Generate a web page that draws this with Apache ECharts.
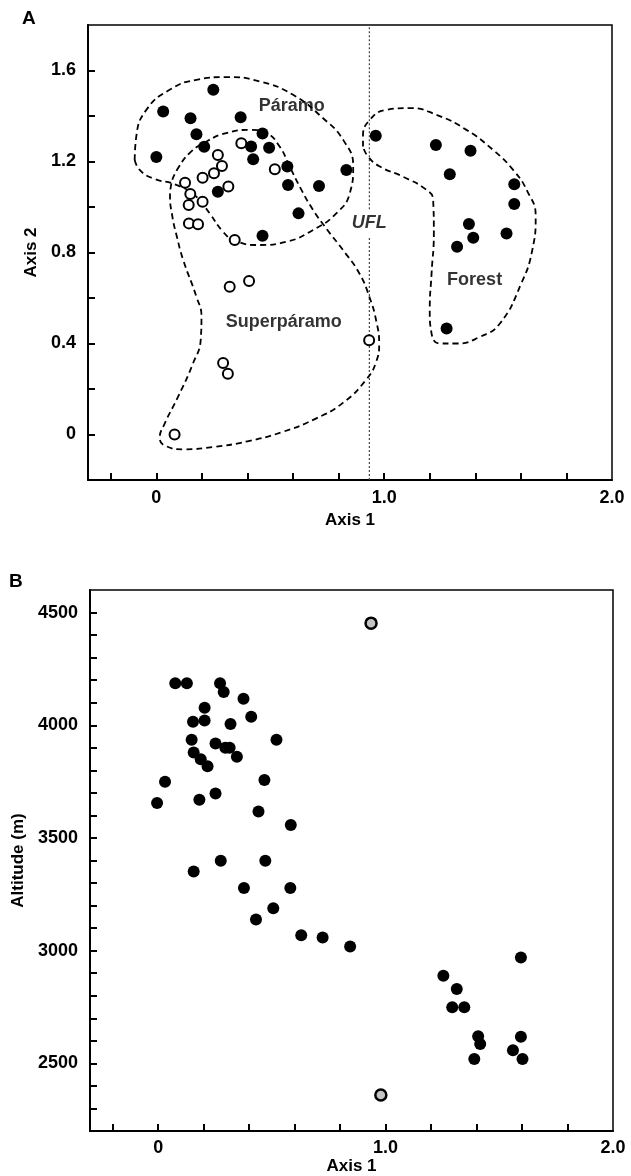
<!DOCTYPE html>
<html>
<head>
<meta charset="utf-8">
<script src="https://cdn.jsdelivr.net/npm/echarts@6/dist/echarts.min.js"></script>
<style>
  html, body { margin: 0; padding: 0; background: #fff; }
  #main { width: 631px; height: 1176px; }
</style>
</head>
<body>
<div id="main"></div>
<script>
// ---- panel A : ordination (Axis 1 x Axis 2) ----
const paramoPlots = [
  [0.0, 1.22], [0.03, 1.42], [0.25, 1.515], [0.15, 1.39], [0.37, 1.395], [0.176, 1.32],
  [0.466, 1.323], [0.21, 1.265], [0.416, 1.266], [0.495, 1.26], [0.425, 1.21], [0.575, 1.178],
  [0.834, 1.163], [0.578, 1.097], [0.714, 1.092], [0.27, 1.067], [0.624, 0.972], [0.466, 0.874]
];
const forestPlots = [
  [0.963, 1.313], [1.227, 1.273], [1.379, 1.247], [1.288, 1.144], [1.571, 1.1], [1.571, 1.013],
  [1.372, 0.925], [1.391, 0.865], [1.537, 0.884], [1.32, 0.825], [1.274, 0.466]
];
const superparamoPlots = [
  [0.373, 1.28], [0.27, 1.229], [0.288, 1.18], [0.253, 1.148], [0.203, 1.129], [0.316, 1.09],
  [0.52, 1.166], [0.126, 1.107], [0.149, 1.057], [0.142, 1.009], [0.203, 1.023], [0.143, 0.928],
  [0.183, 0.924], [0.344, 0.855], [0.322, 0.649], [0.407, 0.675], [0.934, 0.414], [0.293, 0.314],
  [0.314, 0.267], [0.08, 0.0]
];

// dashed envelopes drawn round each group
const paramoHull = [
  [-0.095, 1.207], [-0.088, 1.31], [-0.044, 1.427], [0.058, 1.515], [0.176, 1.559], [0.307, 1.571],
  [0.454, 1.552], [0.6, 1.493], [0.732, 1.39], [0.82, 1.295], [0.864, 1.178], [0.849, 1.06],
  [0.79, 0.972], [0.688, 0.899], [0.571, 0.847], [0.454, 0.833], [0.344, 0.852], [0.293, 0.891],
  [0.234, 0.972], [0.176, 1.045], [0.088, 1.097], [-0.015, 1.126], [-0.073, 1.163], [-0.095, 1.207]
];
const superparamoHull = [
  [0.07, 1.12], [0.095, 1.17], [0.146, 1.237], [0.22, 1.288], [0.307, 1.325], [0.41, 1.339],
  [0.483, 1.325], [0.541, 1.266], [0.585, 1.178], [0.637, 1.075], [0.688, 0.987], [0.75, 0.9],
  [0.82, 0.81], [0.89, 0.71], [0.935, 0.605], [0.965, 0.5], [0.978, 0.4], [0.965, 0.32],
  [0.92, 0.24], [0.82, 0.14], [0.7, 0.07], [0.55, 0.01], [0.4, -0.03], [0.25, -0.055],
  [0.12, -0.065], [0.04, -0.05], [0.015, -0.015], [0.035, 0.045], [0.095, 0.165], [0.16, 0.31],
  [0.195, 0.42], [0.198, 0.52], [0.176, 0.605], [0.117, 0.77], [0.09, 0.87], [0.07, 0.96],
  [0.06, 1.05], [0.07, 1.12]
];
const forestHull = [
  [0.907, 1.266], [0.907, 1.31], [0.937, 1.383], [1.01, 1.427], [1.112, 1.435], [1.23, 1.405],
  [1.361, 1.339], [1.478, 1.251], [1.566, 1.163], [1.628, 1.07], [1.665, 0.96], [1.65, 0.81],
  [1.6, 0.66], [1.508, 0.488], [1.42, 0.429], [1.318, 0.4], [1.244, 0.4], [1.208, 0.444],
  [1.2, 0.546], [1.208, 0.708], [1.218, 0.884], [1.215, 1.031], [1.186, 1.075], [1.083, 1.133],
  [0.981, 1.178], [0.929, 1.222], [0.907, 1.266]
];

// upper forest line (UFL), broken round its label
const uflX = 0.935;
const uflLower = [[uflX, -0.2], [uflX, 0.87]];
const uflUpper = [[uflX, 0.99], [uflX, 1.8]];

const groupLabels = [
  ['Páramo', 0.594, 1.445],
  ['Superpáramo', 0.559, 0.493],
  ['Forest', 1.397, 0.677]
];
const uflLabel = ['UFL', uflX, 0.929];

// ---- panel B : Axis 1 x altitude ----
const altitudePlots = [
  [0.075, 4186], [0.126, 4186], [0.272, 4186], [0.288, 4148], [0.375, 4118], [0.204, 4078],
  [0.409, 4038], [0.153, 4016], [0.204, 4021], [0.318, 4006], [0.147, 3936], [0.52, 3936],
  [0.252, 3919], [0.295, 3900], [0.314, 3900], [0.156, 3879], [0.346, 3860], [0.187, 3849],
  [0.217, 3818], [0.03, 3749], [0.467, 3757], [0.252, 3697], [-0.005, 3655], [0.181, 3669],
  [0.441, 3617], [0.583, 3558], [0.156, 3351], [0.275, 3399], [0.471, 3399], [0.377, 3278],
  [0.581, 3278], [0.506, 3188], [0.43, 3138], [0.629, 3068], [0.723, 3058], [0.844, 3018],
  [1.595, 2970], [1.254, 2889], [1.313, 2830], [1.293, 2749], [1.346, 2749], [1.407, 2620],
  [1.416, 2586], [1.595, 2618], [1.56, 2558], [1.39, 2519], [1.602, 2519]
];
const altitudeOutliers = [[0.936, 4453], [0.979, 2360]];

// ticks and labels
const axis1Ticks = [-0.2, 0, 0.2, 0.4, 0.6, 0.8, 1.0, 1.2, 1.4, 1.6, 1.8];
const axis1Labels = [0, 1, 2];
const axis2Ticks = [0, 0.2, 0.4, 0.6, 0.8, 1.0, 1.2, 1.4, 1.6];
const axis2Labels = [0, 0.4, 0.8, 1.2, 1.6];
const altTicks = [2300, 2400, 2500, 2600, 2700, 2800, 2900, 3000, 3100, 3200, 3300, 3400,
  3500, 3600, 3700, 3800, 3900, 4000, 4100, 4200, 4300, 4400, 4500];
const altLabels = [2500, 3000, 3500, 4000, 4500];

const FONT = '"Liberation Sans", Arial, sans-serif';

const decimal = v => (v === 0 ? '0' : v.toFixed(1));

function valueAxis(opt) {
  return Object.assign({
    type: 'value',
    scale: false,
    splitLine: { show: false },
    axisLine: { show: true, onZero: false, lineStyle: { color: '#000', width: 2 } },
    nameLocation: 'middle',
    nameTextStyle: { color: '#000', fontFamily: FONT, fontSize: 17, fontWeight: 'bold' }
  }, opt);
}

function ticks(values) {
  return { show: true, inside: true, length: 7, customValues: values, lineStyle: { color: '#000', width: 2 } };
}

function labels(values, fmt, margin) {
  return { color: '#000', fontFamily: FONT, fontSize: 18, fontWeight: 'bold', margin: margin,
    customValues: values, formatter: fmt };
}

function hull(data) {
  return {
    type: 'line', xAxisIndex: 0, yAxisIndex: 0, data: data,
    smooth: 0.5, symbol: 'none', silent: true, z: 2,
    lineStyle: { color: '#000', width: 1.8, type: [6, 4] }
  };
}

function ufl(data) {
  return {
    type: 'line', xAxisIndex: 0, yAxisIndex: 0, data: data,
    symbol: 'none', silent: true, z: 1,
    lineStyle: { color: '#444', width: 1.2, type: [2, 2] }
  };
}

const chart = echarts.init(document.getElementById('main'));

chart.setOption({
  animation: false,
  backgroundColor: '#fff',
  grid: [
    { left: 88, top: 25, width: 524, height: 455, show: true, borderColor: '#000', borderWidth: 1.5 },
    { left: 90, top: 590, width: 523, height: 541, show: true, borderColor: '#000', borderWidth: 1.5 }
  ],
  xAxis: [
    valueAxis({
      gridIndex: 0, min: -0.3, max: 2.0, name: 'Axis 1', nameGap: 32,
      axisTick: ticks(axis1Ticks),
      axisLabel: labels(axis1Labels, decimal, 9)
    }),
    valueAxis({
      gridIndex: 1, min: -0.3, max: 2.0, name: 'Axis 1', nameGap: 27,
      axisTick: ticks(axis1Ticks),
      axisLabel: labels(axis1Labels, decimal, 8)
    })
  ],
  yAxis: [
    valueAxis({
      gridIndex: 0, min: -0.2, max: 1.8, name: 'Axis 2', nameGap: 44,
      axisTick: ticks(axis2Ticks),
      axisLabel: labels(axis2Labels, decimal, 12)
    }),
    valueAxis({
      gridIndex: 1, min: 2200, max: 4600, name: 'Altitude (m)', nameGap: 62,
      axisTick: ticks(altTicks),
      axisLabel: labels(altLabels, v => String(v), 12)
    })
  ],
  graphic: [
    { type: 'text', left: 22, top: 9, style: { text: 'A', font: 'bold 19px ' + FONT, fill: '#000' } },
    { type: 'text', left: 9, top: 572, style: { text: 'B', font: 'bold 19px ' + FONT, fill: '#000' } }
  ],
  series: [
    ufl(uflLower),
    ufl(uflUpper),
    hull(paramoHull),
    hull(superparamoHull),
    hull(forestHull),
    {
      type: 'scatter', xAxisIndex: 0, yAxisIndex: 0, data: superparamoPlots, z: 4,
      symbolSize: 10,
      itemStyle: { color: '#fff', borderColor: '#000', borderWidth: 2, opacity: 1 }
    },
    {
      type: 'scatter', xAxisIndex: 0, yAxisIndex: 0, data: paramoPlots.concat(forestPlots), z: 4,
      symbolSize: 12,
      itemStyle: { color: '#000', opacity: 1 }
    },
    {
      type: 'scatter', xAxisIndex: 0, yAxisIndex: 0, z: 5, symbolSize: 0, silent: true,
      data: groupLabels.map(d => ({ name: d[0], value: [d[1], d[2]] })),
      label: { show: true, position: 'inside', formatter: '{b}', color: '#000',
        fontFamily: FONT, fontSize: 18, fontWeight: 'bold' }
    },
    {
      type: 'scatter', xAxisIndex: 0, yAxisIndex: 0, z: 5, symbolSize: 0, silent: true,
      data: [{ name: uflLabel[0], value: [uflLabel[1], uflLabel[2]] }],
      label: { show: true, position: 'inside', formatter: '{b}', color: '#000',
        fontFamily: FONT, fontSize: 18, fontWeight: 'bold', fontStyle: 'italic' }
    },
    {
      type: 'scatter', xAxisIndex: 1, yAxisIndex: 1, data: altitudePlots, z: 4,
      symbolSize: 12,
      itemStyle: { color: '#000', opacity: 1 }
    },
    {
      type: 'scatter', xAxisIndex: 1, yAxisIndex: 1, data: altitudeOutliers, z: 4,
      symbolSize: 11,
      itemStyle: { color: '#c4c4c4', borderColor: '#000', borderWidth: 2.5, opacity: 1 }
    }
  ]
});
</script>
</body>
</html>
